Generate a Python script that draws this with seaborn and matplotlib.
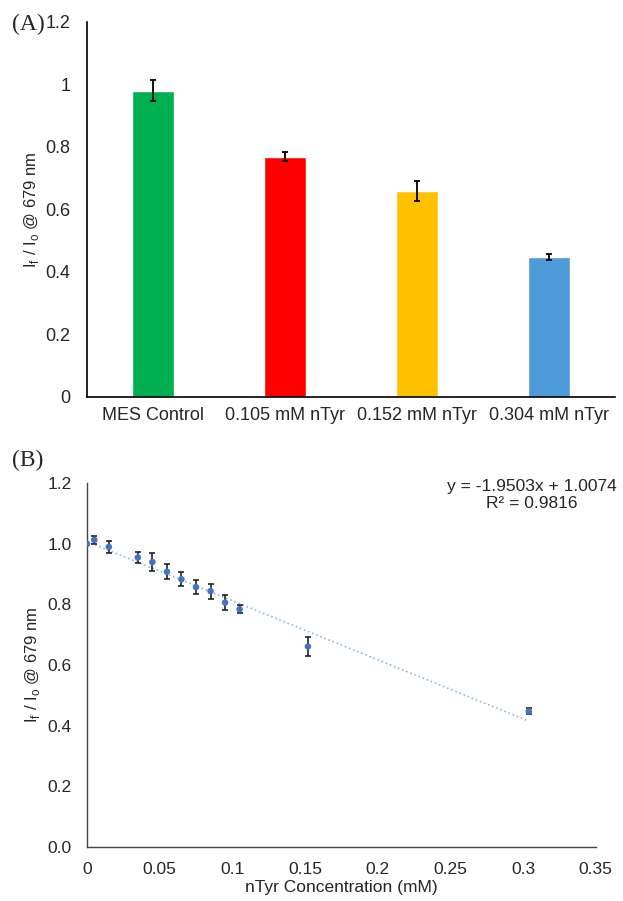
import numpy as np
import pandas as pd
import matplotlib
matplotlib.use("Agg")
import matplotlib.pyplot as plt
import seaborn as sns

# Panel A: bar values and error bars
groups = ["MES Control", "0.105 mM nTyr", "0.152 mM nTyr", "0.304 mM nTyr"]
bar_vals = [0.980, 0.769, 0.660, 0.447]
bar_errs = [0.033, 0.015, 0.032, 0.010]
bar_colors = ["#00B050", "#FF0000", "#FFC000", "#4F9AD9"]

# Panel B: concentration series
conc = [0.0, 0.005, 0.015, 0.035, 0.045, 0.055, 0.065, 0.075, 0.085, 0.095, 0.105, 0.152, 0.304]
ratio = [1.000, 1.013, 0.990, 0.955, 0.940, 0.908, 0.883, 0.857, 0.844, 0.806, 0.784, 0.661, 0.447]
ratio_err = [0.0, 0.014, 0.021, 0.017, 0.029, 0.025, 0.023, 0.022, 0.025, 0.025, 0.013, 0.032, 0.010]
slope, intercept, r2 = -1.9503, 1.0074, 0.9816

sns.set_style("white")
plt.rcParams["font.family"] = ["Liberation Sans", "DejaVu Sans"]
plt.rcParams["mathtext.fontset"] = "custom"
plt.rcParams["mathtext.rm"] = "Liberation Sans"

fig = plt.figure(figsize=(6.23, 9.01), dpi=100)
axA = fig.add_axes([0.1396, 0.5594, 0.8474, 0.4162])
axB = fig.add_axes([0.1396, 0.0603, 0.8166, 0.4033])

ylab = r"I$_\mathregular{f}$ / I$_\mathregular{o}$ @ 679 nm"

# ---- (A) bar chart
dfA = pd.DataFrame({"group": groups, "val": bar_vals})
sns.barplot(data=dfA, x="group", y="val", hue="group", palette=bar_colors,
            width=0.32, legend=False, ax=axA, saturation=1)
axA.errorbar(range(len(groups)), bar_vals, yerr=bar_errs, fmt="none",
             ecolor="black", elinewidth=1.3, capsize=2.5, capthick=1.3)
axA.set_xlim(-0.5, 3.5)
axA.set_ylim(0, 1.2)
axA.set_yticks(np.arange(0, 1.21, 0.2))
axA.set_yticklabels(["0", "0.2", "0.4", "0.6", "0.8", "1", "1.2"])
axA.set_xticks(np.arange(-0.5, 3.6, 1.0))
axA.set_xticklabels([])
axA.set_xticks(range(len(groups)), minor=True)
axA.set_xticklabels(groups, minor=True)
axA.tick_params(axis="x", which="minor", length=0, pad=7, labelsize=13)
axA.tick_params(axis="x", which="major", length=5, width=1.2, direction="out", color="black")
axA.tick_params(axis="y", length=5, width=1.2, direction="out", labelsize=13,
                color="black", pad=7)
axA.set_xlabel("")
axA.set_ylabel(ylab, fontsize=12, labelpad=3)
for s in ["top", "right"]:
    axA.spines[s].set_visible(False)
for s in ["left", "bottom"]:
    axA.spines[s].set_color("black")
    axA.spines[s].set_linewidth(1.2)

# ---- (B) scatter with linear trend
dfB = pd.DataFrame({"conc": conc, "ratio": ratio})
xfit = np.array([conc[0], conc[-1]])
axB.plot(xfit, slope * xfit + intercept, ls=":", color="#8DB8E2", lw=1.2, zorder=1)
axB.errorbar(conc, ratio, yerr=ratio_err, fmt="none", ecolor="#222222",
             elinewidth=1.2, capsize=2, capthick=1.2, zorder=2)
sns.scatterplot(data=dfB, x="conc", y="ratio", color="#4472C4", s=22,
                edgecolor="none", ax=axB, zorder=3)
axB.set_xlim(0, 0.35)
axB.set_ylim(0, 1.2)
axB.set_xticks(np.arange(0, 0.351, 0.05))
axB.set_xticklabels(["0", "0.05", "0.1", "0.15", "0.2", "0.25", "0.3", "0.35"])
axB.set_yticks(np.arange(0, 1.21, 0.2))
axB.set_yticklabels([f"{v:.1f}" for v in np.arange(0, 1.21, 0.2)])
axB.tick_params(axis="both", length=5, width=1.0, direction="out", labelsize=12.5,
                color="#444444", pad=6)
axB.set_xlabel("nTyr Concentration (mM)", fontsize=12.5, labelpad=2)
axB.set_ylabel(ylab, fontsize=12, labelpad=4)
for s in ["top", "right"]:
    axB.spines[s].set_visible(False)
for s in ["left", "bottom"]:
    axB.spines[s].set_color("#444444")
    axB.spines[s].set_linewidth(1.0)

fig.text(532 / 623, 1 - 495 / 901,
         f"y = {slope:.4f}x + {intercept:.4f}\nR\u00b2 = {r2:.4f}",
         ha="center", va="center", fontsize=12.5, linespacing=1.1)

fig.text(12 / 623, 1 - 24 / 901, "(A)", family="Liberation Serif", fontsize=17,
         ha="left", va="center")
fig.text(12 / 623, 1 - 460 / 901, "(B)", family="Liberation Serif", fontsize=17,
         ha="left", va="center")

fig.savefig("out.png", dpi=100)
